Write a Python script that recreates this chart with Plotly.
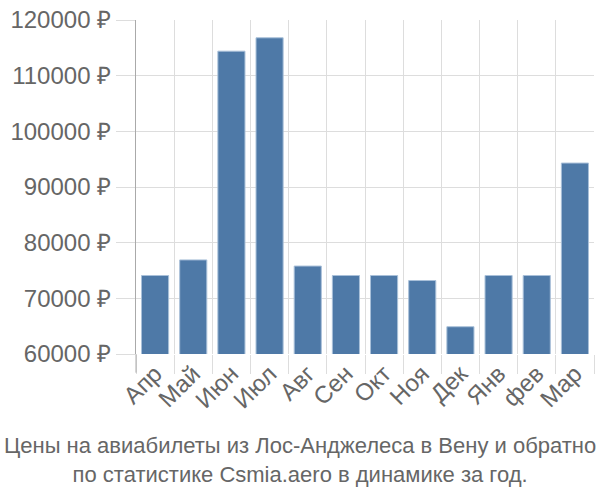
import plotly.graph_objects as go

months = ["Апр", "Май", "Июн", "Июл", "Авг", "Сен", "Окт", "Ноя", "Дек", "Янв", "фев", "Мар"]
prices = [74100, 76900, 114400, 116800, 75800, 74100, 74100, 73200, 64900, 74100, 74100, 94300]
y_ticks = [60000, 70000, 80000, 90000, 100000, 110000, 120000]
title_lines = ["Цены на авиабилеты из Лос-Анджелеса в Вену и обратно",
               "по статистике Csmia.aero в динамике за год."]

grid = "#dddddd"
txt = "#666666"
font = "Liberation Sans, Arial, sans-serif"

L, R, T, B = 136, 6, 14, 146
W, H = 600, 500
ph = H - T - B

fig = go.Figure(go.Bar(
    x=months, y=prices,
    marker=dict(color="#4e79a7", line=dict(color="#a9c0d9", width=1)),
))
fig.update_layout(
    width=W, height=H,
    margin=dict(l=L, r=R, t=T, b=B),
    paper_bgcolor="white", plot_bgcolor="white",
    bargap=0.29, showlegend=False,
    font=dict(family=font, color=txt, size=22),
    annotations=[dict(
        text="<br>".join(title_lines), xref="paper", yref="paper",
        x=(W / 2 - L) / (W - L - R), y=-(432 - (H - B)) / ph,
        xanchor="center", yanchor="top", showarrow=False,
        font=dict(size=22, color=txt, family=font),
    )],
    shapes=[dict(type="line", xref="paper", yref="paper", x0=0, x1=0,
                 y0=-19 / ph, y1=0, line=dict(color="#aaaaaa", width=1))],
)
fig.update_xaxes(
    type="category", tickson="boundaries", showgrid=True, gridcolor=grid, gridwidth=1,
    ticks="outside", ticklen=19, tickcolor=grid, tickangle=-45,
    tickfont=dict(size=24, color=txt, family=font), showline=False, zeroline=False,
)
fig.update_yaxes(
    range=[60000, 120000], tickvals=y_ticks, ticktext=[f"{v} ₽" for v in y_ticks],
    showgrid=True, gridcolor=grid, gridwidth=1,
    ticks="outside", ticklen=19, tickcolor=grid,
    showline=True, linecolor="#aaaaaa", linewidth=1,
    tickfont=dict(size=24, color=txt, family=font), zeroline=False,
)
fig.write_html("out.html")
